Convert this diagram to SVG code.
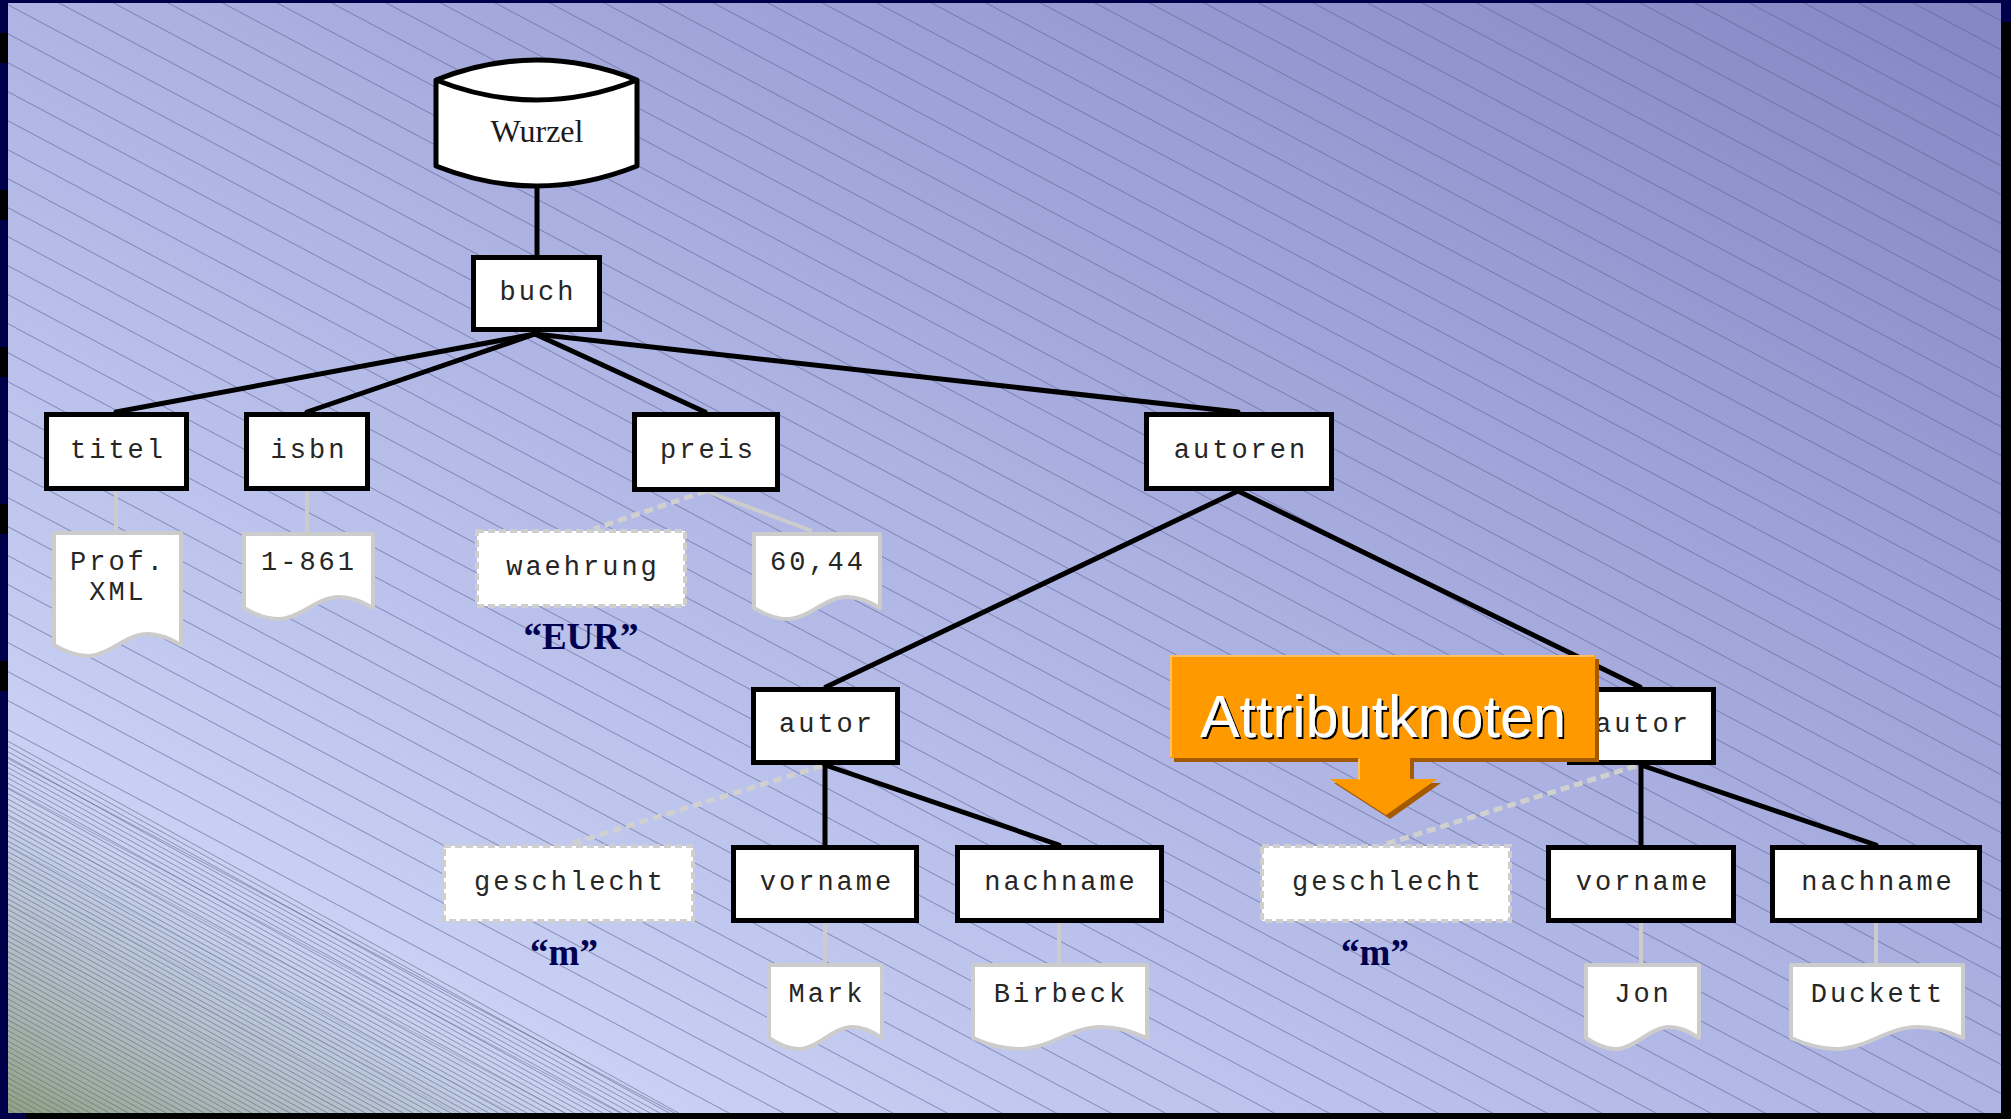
<svg xmlns="http://www.w3.org/2000/svg" width="2011" height="1119" viewBox="0 0 2011 1119">
  <defs>
    <linearGradient id="bgGrad" x1="0" y1="1" x2="1" y2="0">
      <stop offset="0" stop-color="#d6dffd"/>
      <stop offset="0.5" stop-color="#aeb4e3"/>
      <stop offset="1" stop-color="#8486c4"/>
    </linearGradient>
    <linearGradient id="cornerGrad" gradientUnits="userSpaceOnUse" x1="168" y1="827" x2="8" y2="1113">
      <stop offset="0" stop-color="#d0d9f8" stop-opacity="0"/>
      <stop offset="0.3" stop-color="#b8c4d8" stop-opacity="0.7"/>
      <stop offset="1" stop-color="#90a282" stop-opacity="1"/>
    </linearGradient>
    <pattern id="hatch" width="60" height="25.6" patternUnits="userSpaceOnUse" patternTransform="rotate(28)">
      <line x1="0" y1="0.5" x2="60" y2="0.5" stroke="#555c8c" stroke-opacity="0.55" stroke-width="1"/>
    </pattern>
    <pattern id="hatchDense" width="60" height="4.6" patternUnits="userSpaceOnUse" patternTransform="rotate(29)">
      <line x1="0" y1="0.5" x2="60" y2="0.5" stroke="#5f6a80" stroke-opacity="0.6" stroke-width="1"/>
    </pattern>
    <filter id="textShadow" x="-5%" y="-20%" width="110%" height="140%">
      <feOffset in="SourceAlpha" dx="2" dy="2" result="off"/>
      <feFlood flood-color="#000000"/>
      <feComposite in2="off" operator="in" result="sh"/>
      <feMerge>
        <feMergeNode in="sh"/>
        <feMergeNode in="SourceGraphic"/>
      </feMerge>
    </filter>
    <style>
      .elem { fill: #ffffff; stroke: #000000; stroke-width: 5; }
      .attr { fill: #ffffff; stroke: #cfcfcf; stroke-width: 4; stroke-dasharray: 7 4; }
      .doc { fill: #ffffff; stroke: #cccccc; stroke-width: 4; stroke-linejoin: round; }
      .lbl { font-family: "Liberation Mono", "DejaVu Sans Mono", monospace; font-size: 27px; letter-spacing: 3px; fill: #262626; text-anchor: middle; }
      .val { font-family: "Liberation Serif", "Times New Roman", serif; font-size: 37px; font-weight: bold; fill: #000050; text-anchor: middle; }
      .edge { stroke: #000000; stroke-width: 5; fill: none; stroke-linecap: round; }
      .text-edge { stroke: #cccccc; stroke-width: 4; fill: none; }
      .attr-edge { stroke: #d0d0d0; stroke-width: 5; fill: none; stroke-dasharray: 9 5; }
    </style>
  </defs>

  <!-- background: gradient, fine diagonal hatching, dense corner hatching -->
  <g id="background">
    <rect x="0" y="0" width="2011" height="1119" fill="url(#bgGrad)"/>
    <rect x="0" y="0" width="2011" height="1119" fill="url(#hatch)"/>
    <polygon points="8,737 680,1113 8,1113" fill="url(#cornerGrad)"/>
    <polygon points="8,737 680,1113 8,1113" fill="url(#hatchDense)"/>
    <!-- frame -->
    <rect x="0" y="0" width="2011" height="3" fill="#00004a"/>
    <rect x="0" y="0" width="8" height="1119" fill="#00004a"/>
    <rect x="2001" y="0" width="10" height="1119" fill="#000000"/>
    <rect x="2001" y="0" width="10" height="22" fill="#00004a"/>
    <rect x="0" y="1113" width="2011" height="6" fill="#000000"/>
    <rect x="0" y="1113" width="26" height="6" fill="#00004a"/>
    <g fill="#000000">
      <rect x="0" y="33" width="8" height="30"/>
      <rect x="0" y="190" width="8" height="30"/>
      <rect x="0" y="347" width="8" height="30"/>
      <rect x="0" y="504" width="8" height="30"/>
      <rect x="0" y="661" width="8" height="30"/>
    </g>
  </g>

  <!-- connectors -->
  <g id="connectors">
    <line class="edge" x1="537" y1="187" x2="537" y2="255"/>
    <line class="edge" x1="535" y1="334" x2="116" y2="412"/>
    <line class="edge" x1="535" y1="334" x2="307" y2="412"/>
    <line class="edge" x1="535" y1="334" x2="705" y2="412"/>
    <line class="edge" x1="535" y1="334" x2="1238" y2="412"/>
    <line class="edge" x1="1238" y1="491" x2="826" y2="687"/>
    <line class="edge" x1="1238" y1="491" x2="1640" y2="687"/>
    <line class="edge" x1="825" y1="765" x2="825" y2="845"/>
    <line class="edge" x1="825" y1="765" x2="1059" y2="845"/>
    <line class="edge" x1="1641" y1="765" x2="1641" y2="845"/>
    <line class="edge" x1="1641" y1="765" x2="1876" y2="845"/>

    <line class="text-edge" x1="116" y1="491" x2="116" y2="531"/>
    <line class="text-edge" x1="307" y1="491" x2="307" y2="532"/>
    <line class="text-edge" x1="706" y1="491" x2="812" y2="531"/>
    <line class="text-edge" x1="825" y1="923" x2="825" y2="963"/>
    <line class="text-edge" x1="1059" y1="923" x2="1059" y2="963"/>
    <line class="text-edge" x1="1641" y1="923" x2="1641" y2="963"/>
    <line class="text-edge" x1="1876" y1="923" x2="1876" y2="963"/>

    <line class="attr-edge" x1="706" y1="491" x2="594" y2="529"/>
    <line class="attr-edge" x1="822" y1="766" x2="570" y2="844"/>
    <line class="attr-edge" x1="1636" y1="766" x2="1386" y2="844"/>
  </g>

  <!-- root -->
  <g id="node-wurzel">
    <path d="M436,80 Q536.5,40 637,80 L637,166 Q536.5,206 436,166 Z" fill="#ffffff" stroke="#000000" stroke-width="5" stroke-linejoin="round"/>
    <path d="M436,80 Q536.5,120 637,80" fill="none" stroke="#000000" stroke-width="5"/>
    <text x="537" y="142" font-family="'Liberation Serif', 'Times New Roman', serif" font-size="32" fill="#1a1a1a" text-anchor="middle">Wurzel</text>
  </g>

  <!-- element nodes -->
  <g id="node-buch">
    <rect class="elem" x="473.5" y="257.5" width="126" height="72"/>
    <text class="lbl" x="538" y="300">buch</text>
  </g>
  <g id="node-titel">
    <rect class="elem" x="46.5" y="414.5" width="140" height="74"/>
    <text class="lbl" x="118" y="458">titel</text>
  </g>
  <g id="node-isbn">
    <rect class="elem" x="246.5" y="414.5" width="121" height="74"/>
    <text class="lbl" x="309" y="458">isbn</text>
  </g>
  <g id="node-preis">
    <rect class="elem" x="634.5" y="414.5" width="143" height="75"/>
    <text class="lbl" x="708" y="458">preis</text>
  </g>
  <g id="node-autoren">
    <rect class="elem" x="1146.5" y="414.5" width="185" height="74"/>
    <text class="lbl" x="1241" y="458">autoren</text>
  </g>
  <g id="node-autor-1">
    <rect class="elem" x="753.5" y="689.5" width="144" height="73"/>
    <text class="lbl" x="827" y="732">autor</text>
  </g>
  <g id="node-autor-2">
    <rect class="elem" x="1569.5" y="689.5" width="144" height="73"/>
    <text class="lbl" x="1643" y="732">autor</text>
  </g>
  <g id="node-vorname-1">
    <rect class="elem" x="733.5" y="847.5" width="183" height="73"/>
    <text class="lbl" x="827" y="890">vorname</text>
  </g>
  <g id="node-nachname-1">
    <rect class="elem" x="957.5" y="847.5" width="204" height="73"/>
    <text class="lbl" x="1061" y="890">nachname</text>
  </g>
  <g id="node-vorname-2">
    <rect class="elem" x="1548.5" y="847.5" width="185" height="73"/>
    <text class="lbl" x="1643" y="890">vorname</text>
  </g>
  <g id="node-nachname-2">
    <rect class="elem" x="1772.5" y="847.5" width="207" height="73"/>
    <text class="lbl" x="1878" y="890">nachname</text>
  </g>

  <!-- attribute nodes -->
  <g id="node-waehrung">
    <rect class="attr" x="477" y="531" width="208" height="75"/>
    <text class="lbl" x="583" y="575">waehrung</text>
    <text class="val" x="581" y="649">“EUR”</text>
  </g>
  <g id="node-geschlecht-1">
    <rect class="attr" x="444" y="846" width="249" height="75"/>
    <text class="lbl" x="570" y="890">geschlecht</text>
    <text class="val" x="564" y="965">“m”</text>
  </g>
  <g id="node-geschlecht-2">
    <rect class="attr" x="1262" y="846" width="248" height="75"/>
    <text class="lbl" x="1388" y="890">geschlecht</text>
    <text class="val" x="1375" y="965">“m”</text>
  </g>

  <!-- text nodes (document shape) -->
  <g id="node-text-titel">
    <path class="doc" d="M54,533 H181 V645 C117.5,607 117.5,683 54,645 Z"/>
    <text class="lbl" x="118" y="570">Prof.</text>
    <text class="lbl" x="118" y="600">XML</text>
  </g>
  <g id="node-text-isbn">
    <path class="doc" d="M244,534 H373 V608 C308.5,570 308.5,646 244,608 Z"/>
    <text class="lbl" x="309" y="570">1-861</text>
  </g>
  <g id="node-text-preis">
    <path class="doc" d="M754,534 H880 V608 C817,570 817,646 754,608 Z"/>
    <text class="lbl" x="818" y="570">60,44</text>
  </g>
  <g id="node-text-mark">
    <path class="doc" d="M769,965 H882 V1038 C825.5,1000 825.5,1076 769,1038 Z"/>
    <text class="lbl" x="827" y="1002">Mark</text>
  </g>
  <g id="node-text-birbeck">
    <path class="doc" d="M973,965 H1147 V1038 C1060,1000 1060,1076 973,1038 Z"/>
    <text class="lbl" x="1061" y="1002">Birbeck</text>
  </g>
  <g id="node-text-jon">
    <path class="doc" d="M1586,965 H1699 V1038 C1642.5,1000 1642.5,1076 1586,1038 Z"/>
    <text class="lbl" x="1643" y="1002">Jon</text>
  </g>
  <g id="node-text-duckett">
    <path class="doc" d="M1791,965 H1963 V1038 C1877,1000 1877,1076 1791,1038 Z"/>
    <text class="lbl" x="1878" y="1002">Duckett</text>
  </g>

  <!-- callout -->
  <g id="callout-attributknoten">
    <path d="M1174,659 H1599 V762 H1414 V783 H1441 L1390,819 L1334,783 H1362 V762 H1174 Z" fill="#a45a00"/>
    <path d="M1170,655 H1595 V758 H1410 V779 H1437 L1386,815 L1330,779 H1358 V758 H1170 Z" fill="#ff9900"/>
    <polyline points="1171,757 1171,656 1594,656" fill="none" stroke="#ffc063" stroke-width="2"/>
    <polyline points="1359,759 1359,780" fill="none" stroke="#ffc063" stroke-width="2"/>
    <text x="1200" y="737" font-family="'Liberation Sans', Arial, sans-serif" font-size="60" fill="#ffffff" textLength="366" lengthAdjust="spacingAndGlyphs" filter="url(#textShadow)">Attributknoten</text>
  </g>
</svg>
